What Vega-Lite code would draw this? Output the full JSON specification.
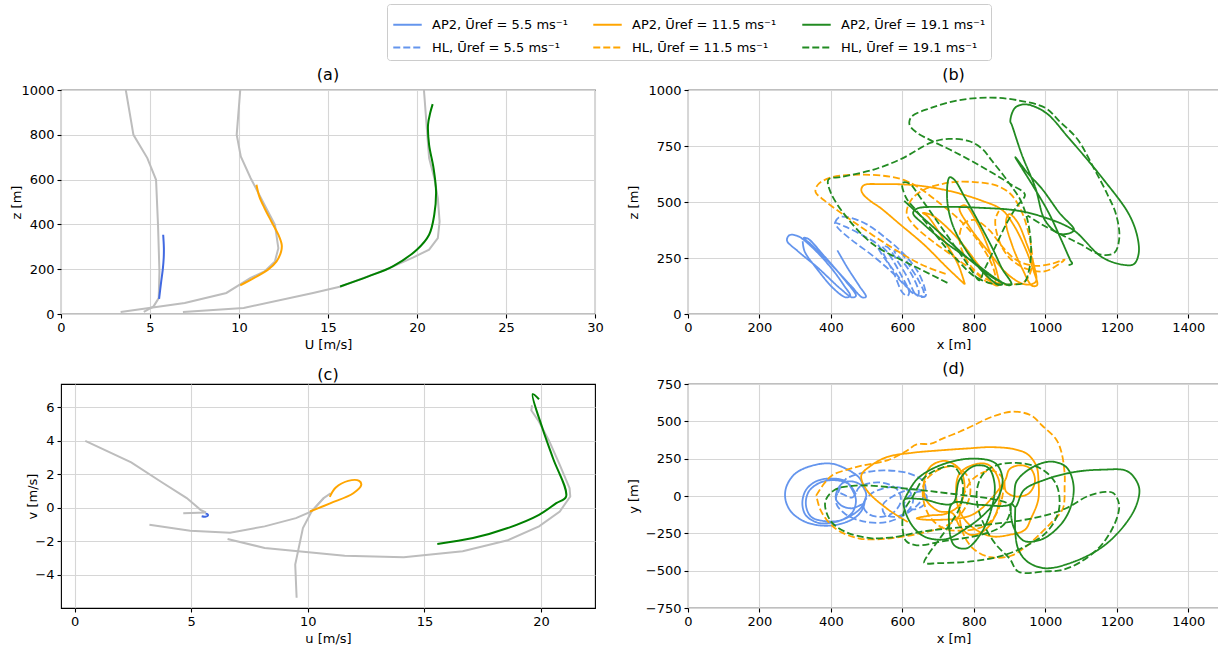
{
"$schema": "https://vega.github.io/schema/vega-lite/v6.json",
"padding": {"left": 9, "top": 3, "right": 0, "bottom": 0},
"background": "white",
"config": {
  "font": "DejaVu Sans",
  "view": {"stroke": "black", "strokeWidth": 1.1},
  "axis": {"domain": false, "grid": true, "gridColor": "#d6d6d6", "gridWidth": 1.1, "tickColor": "black", "tickSize": 4, "tickWidth": 1.1, "labelFontSize": 13, "labelColor": "black", "labelPadding": 3, "titleFontSize": 13, "titleFontWeight": "normal", "titleColor": "black", "titlePadding": 4, "labelFlush": false, "labelOverlap": false, "format": "d"},
  "title": {"fontSize": 16, "fontWeight": "normal", "color": "black", "offset": 1},
  "legend": {"title": null, "orient": "none", "legendX": 326, "legendY": -86, "columns": 3, "symbolType": "stroke", "symbolSize": 810, "symbolStrokeWidth": 1.8, "labelFontSize": 13, "labelColor": "black", "labelOffset": 9, "strokeColor": "#cccccc", "fillColor": "white", "padding": 5, "cornerRadius": 3, "columnPadding": 21, "rowPadding": -3},
  "line": {"clip": true}
},
"datasets": {
  "ag": [
    {"g":"1","x":3.64,"z":1000},{"g":"1","x":4.07,"z":800},{"g":"1","x":4.85,"z":696},{"g":"1","x":5.34,"z":599},{"g":"1","x":5.45,"z":398},{"g":"1","x":5.53,"z":190},{"g":"1","x":5.49,"z":71},{"g":"1","x":5.2,"z":34},{"g":"1","x":4.65,"z":9},
    {"g":"2","x":10.07,"z":1000},{"g":"2","x":9.87,"z":800},{"g":"2","x":10.1,"z":703},{"g":"2","x":10.65,"z":607},{"g":"2","x":11.43,"z":488},{"g":"2","x":12.02,"z":398},{"g":"2","x":12.21,"z":294},{"g":"2","x":12.02,"z":235},{"g":"2","x":11.43,"z":190},{"g":"2","x":10.65,"z":161},{"g":"2","x":9.29,"z":94},{"g":"2","x":6.95,"z":49},{"g":"2","x":3.35,"z":9},
    {"g":"3","x":20.39,"z":1000},{"g":"3","x":20.58,"z":800},{"g":"3","x":20.68,"z":696},{"g":"3","x":20.97,"z":607},{"g":"3","x":21.17,"z":517},{"g":"3","x":21.27,"z":413},{"g":"3","x":21.17,"z":339},{"g":"3","x":20.68,"z":287},{"g":"3","x":19.8,"z":253},{"g":"3","x":18.25,"z":198},{"g":"3","x":15.72,"z":123},{"g":"3","x":14.16,"z":94},{"g":"3","x":10.26,"z":27},{"g":"3","x":6.85,"z":9}
  ],
  "ac": [
    {"r":"5.5","x":5.51,"z":68},{"r":"5.5","x":5.63,"z":146},{"r":"5.5","x":5.72,"z":200},{"r":"5.5","x":5.77,"z":250},{"r":"5.5","x":5.78,"z":294},{"r":"5.5","x":5.76,"z":330},{"r":"5.5","x":5.74,"z":354},
    {"r":"11.5","x":10.07,"z":128},{"r":"11.5","x":10.85,"z":161},{"r":"11.5","x":11.63,"z":198},{"r":"11.5","x":12.11,"z":235},{"r":"11.5","x":12.37,"z":280},{"r":"11.5","x":12.4,"z":309},{"r":"11.5","x":12.21,"z":354},{"r":"11.5","x":11.82,"z":413},{"r":"11.5","x":11.43,"z":473},{"r":"11.5","x":11.14,"z":525},{"r":"11.5","x":10.98,"z":577},
    {"r":"19.1","x":15.68,"z":123},{"r":"19.1","x":17.27,"z":168},{"r":"19.1","x":18.64,"z":213},{"r":"19.1","x":19.99,"z":287},{"r":"19.1","x":20.68,"z":354},{"r":"19.1","x":20.97,"z":443},{"r":"19.1","x":21.07,"z":547},{"r":"19.1","x":20.93,"z":651},{"r":"19.1","x":20.68,"z":755},{"r":"19.1","x":20.62,"z":845},{"r":"19.1","x":20.74,"z":897},{"r":"19.1","x":20.88,"z":937}
  ],
  "cg": [
    {"g":"1","x":0.46,"y":4.0},{"g":"1","x":2.43,"y":2.72},{"g":"1","x":3.69,"y":1.57},{"g":"1","x":4.81,"y":0.58},{"g":"1","x":5.4,"y":-0.12},{"g":"1","x":5.63,"y":-0.28},{"g":"1","x":4.66,"y":-0.32},
    {"g":"2a","x":3.21,"y":-1.01},{"g":"2a","x":4.96,"y":-1.37},{"g":"2a","x":6.67,"y":-1.49},{"g":"2a","x":8.15,"y":-1.11},{"g":"2a","x":9.49,"y":-0.62},{"g":"2a","x":10.16,"y":-0.22},{"g":"2a","x":10.68,"y":0.58},{"g":"2a","x":10.98,"y":0.87},
    {"g":"2b","x":10.68,"y":0.58},{"g":"2b","x":10.16,"y":-0.22},{"g":"2b","x":9.79,"y":-1.21},{"g":"2b","x":9.46,"y":-3.39},{"g":"2b","x":9.52,"y":-5.38},
    {"g":"3","x":6.56,"y":-1.87},{"g":"3","x":8.15,"y":-2.4},{"g":"3","x":11.58,"y":-2.86},{"g":"3","x":14.11,"y":-2.96},{"g":"3","x":16.64,"y":-2.6},{"g":"3","x":18.57,"y":-1.94},{"g":"3","x":19.91,"y":-1.11},{"g":"3","x":20.8,"y":-0.22},{"g":"3","x":21.25,"y":0.67},{"g":"3","x":21.22,"y":1.17},{"g":"3","x":20.8,"y":2.56},{"g":"3","x":20.36,"y":3.95},{"g":"3","x":19.91,"y":5.14},{"g":"3","x":19.58,"y":5.83},{"g":"3","x":19.61,"y":6.13}
  ],
  "cc": [
    {"r":"5.5","x":5.45,"y":-0.5},{"r":"5.5","x":5.6,"y":-0.53},{"r":"5.5","x":5.72,"y":-0.47},{"r":"5.5","x":5.7,"y":-0.38},{"r":"5.5","x":5.62,"y":-0.35},
    {"r":"11.5","x":10.09,"y":-0.22},{"r":"11.5","x":10.98,"y":0.28},{"r":"11.5","x":11.95,"y":0.87},{"r":"11.5","x":12.29,"y":1.37},{"r":"11.5","x":12.2,"y":1.61},{"r":"11.5","x":11.73,"y":1.61},{"r":"11.5","x":11.2,"y":1.21},{"r":"11.5","x":10.94,"y":0.65},
    {"r":"19.1","x":15.55,"y":-2.16},{"r":"19.1","x":17.08,"y":-1.81},{"r":"19.1","x":18.57,"y":-1.21},{"r":"19.1","x":19.91,"y":-0.42},{"r":"19.1","x":20.65,"y":0.28},{"r":"19.1","x":21.07,"y":0.67},{"r":"19.1","x":20.51,"y":2.96},{"r":"19.1","x":20.06,"y":4.74},{"r":"19.1","x":19.64,"y":6.79},{"r":"19.1","x":19.91,"y":6.49}
  ],
  "b": [
    {"s":"AP2|5.5","x":418,"z":284},{"s":"AP2|5.5","x":446,"z":207},{"s":"AP2|5.5","x":479,"z":126},{"s":"AP2|5.5","x":498,"z":77},{"s":"AP2|5.5","x":488,"z":74},{"s":"AP2|5.5","x":456,"z":126},{"s":"AP2|5.5","x":391,"z":237},{"s":"AP2|5.5","x":344,"z":311},{"s":"AP2|5.5","x":324,"z":340},{"s":"AP2|5.5","x":335,"z":337},{"s":"AP2|5.5","x":381,"z":259},{"s":"AP2|5.5","x":437,"z":155},{"s":"AP2|5.5","x":470,"z":81},{"s":"AP2|5.5","x":460,"z":74},{"s":"AP2|5.5","x":428,"z":111},{"s":"AP2|5.5","x":363,"z":207},{"s":"AP2|5.5","x":307,"z":281},{"s":"AP2|5.5","x":277,"z":328},{"s":"AP2|5.5","x":284,"z":352},{"s":"AP2|5.5","x":307,"z":348},{"s":"AP2|5.5","x":344,"z":303},{"s":"AP2|5.5","x":400,"z":207},{"s":"AP2|5.5","x":437,"z":126},{"s":"AP2|5.5","x":454,"z":81},{"s":"AP2|5.5","x":442,"z":74},{"s":"AP2|5.5","x":409,"z":111},{"s":"AP2|5.5","x":358,"z":207},{"s":"AP2|5.5","x":326,"z":281},{"s":"AP2|5.5","x":321,"z":325},
    {"s":"HL|5.5","x":411,"z":407},{"s":"HL|5.5","x":423,"z":432},{"s":"HL|5.5","x":456,"z":429},{"s":"HL|5.5","x":502,"z":399},{"s":"HL|5.5","x":558,"z":333},{"s":"HL|5.5","x":605,"z":266},{"s":"HL|5.5","x":642,"z":192},{"s":"HL|5.5","x":662,"z":118},{"s":"HL|5.5","x":665,"z":81},{"s":"HL|5.5","x":651,"z":77},{"s":"HL|5.5","x":614,"z":118},{"s":"HL|5.5","x":567,"z":192},{"s":"HL|5.5","x":512,"z":266},{"s":"HL|5.5","x":456,"z":333},{"s":"HL|5.5","x":419,"z":385},{"s":"HL|5.5","x":411,"z":407},{"s":"HL|5.5","x":440,"z":390},{"s":"HL|5.5","x":490,"z":350},{"s":"HL|5.5","x":530,"z":311},{"s":"HL|5.5","x":553,"z":251},{"s":"HL|5.5","x":577,"z":178},{"s":"HL|5.5","x":600,"z":96},{"s":"HL|5.5","x":614,"z":81},{"s":"HL|5.5","x":619,"z":96},{"s":"HL|5.5","x":595,"z":178},{"s":"HL|5.5","x":563,"z":266},{"s":"HL|5.5","x":544,"z":303},{"s":"HL|5.5","x":558,"z":299},{"s":"HL|5.5","x":586,"z":237},{"s":"HL|5.5","x":614,"z":163},{"s":"HL|5.5","x":633,"z":96},{"s":"HL|5.5","x":642,"z":81},{"s":"HL|5.5","x":646,"z":96},{"s":"HL|5.5","x":628,"z":170},{"s":"HL|5.5","x":600,"z":237},{"s":"HL|5.5","x":577,"z":281},{"s":"HL|5.5","x":595,"z":274},{"s":"HL|5.5","x":623,"z":207},{"s":"HL|5.5","x":646,"z":148},{"s":"HL|5.5","x":660,"z":96},{"s":"HL|5.5","x":656,"z":81},{"s":"HL|5.5","x":633,"z":89},{"s":"HL|5.5","x":605,"z":133},{"s":"HL|5.5","x":577,"z":192},{"s":"HL|5.5","x":549,"z":251},{"s":"HL|5.5","x":532,"z":293},
    {"s":"AP2|11.5","x":775,"z":132},{"s":"AP2|11.5","x":727,"z":204},{"s":"AP2|11.5","x":661,"z":309},{"s":"AP2|11.5","x":595,"z":398},{"s":"AP2|11.5","x":539,"z":473},{"s":"AP2|11.5","x":510,"z":505},{"s":"AP2|11.5","x":490,"z":535},{"s":"AP2|11.5","x":485,"z":555},{"s":"AP2|11.5","x":492,"z":575},{"s":"AP2|11.5","x":538,"z":580},{"s":"AP2|11.5","x":633,"z":575},{"s":"AP2|11.5","x":727,"z":551},{"s":"AP2|11.5","x":822,"z":506},{"s":"AP2|11.5","x":878,"z":466},{"s":"AP2|11.5","x":911,"z":398},{"s":"AP2|11.5","x":944,"z":293},{"s":"AP2|11.5","x":968,"z":189},{"s":"AP2|11.5","x":977,"z":129},{"s":"AP2|11.5","x":963,"z":126},{"s":"AP2|11.5","x":935,"z":204},{"s":"AP2|11.5","x":907,"z":308},{"s":"AP2|11.5","x":890,"z":413},{"s":"AP2|11.5","x":899,"z":446},{"s":"AP2|11.5","x":921,"z":413},{"s":"AP2|11.5","x":949,"z":308},{"s":"AP2|11.5","x":968,"z":219},{"s":"AP2|11.5","x":973,"z":144},{"s":"AP2|11.5","x":944,"z":132},{"s":"AP2|11.5","x":897,"z":174},{"s":"AP2|11.5","x":841,"z":278},{"s":"AP2|11.5","x":784,"z":398},{"s":"AP2|11.5","x":760,"z":473},{"s":"AP2|11.5","x":775,"z":485},{"s":"AP2|11.5","x":812,"z":398},{"s":"AP2|11.5","x":841,"z":293},{"s":"AP2|11.5","x":864,"z":189},{"s":"AP2|11.5","x":869,"z":129},{"s":"AP2|11.5","x":855,"z":132},{"s":"AP2|11.5","x":812,"z":221},{"s":"AP2|11.5","x":746,"z":353},{"s":"AP2|11.5","x":680,"z":443},{"s":"AP2|11.5","x":657,"z":451},{"s":"AP2|11.5","x":671,"z":436},{"s":"AP2|11.5","x":718,"z":325},{"s":"AP2|11.5","x":756,"z":221},{"s":"AP2|11.5","x":775,"z":132},
    {"s":"HL|11.5","x":721,"z":179},{"s":"HL|11.5","x":654,"z":220},{"s":"HL|11.5","x":557,"z":310},{"s":"HL|11.5","x":461,"z":414},{"s":"HL|11.5","x":384,"z":504},{"s":"HL|11.5","x":357,"z":545},{"s":"HL|11.5","x":364,"z":578},{"s":"HL|11.5","x":403,"z":611},{"s":"HL|11.5","x":480,"z":622},{"s":"HL|11.5","x":557,"z":615},{"s":"HL|11.5","x":610,"z":595},{"s":"HL|11.5","x":650,"z":560},{"s":"HL|11.5","x":700,"z":500},{"s":"HL|11.5","x":760,"z":420},{"s":"HL|11.5","x":810,"z":330},{"s":"HL|11.5","x":845,"z":240},{"s":"HL|11.5","x":860,"z":170},{"s":"HL|11.5","x":858,"z":135},{"s":"HL|11.5","x":840,"z":140},{"s":"HL|11.5","x":800,"z":190},{"s":"HL|11.5","x":740,"z":260},{"s":"HL|11.5","x":680,"z":330},{"s":"HL|11.5","x":630,"z":400},{"s":"HL|11.5","x":612,"z":450},{"s":"HL|11.5","x":625,"z":510},{"s":"HL|11.5","x":660,"z":555},{"s":"HL|11.5","x":710,"z":580},{"s":"HL|11.5","x":750,"z":590},{"s":"HL|11.5","x":810,"z":588},{"s":"HL|11.5","x":860,"z":575},{"s":"HL|11.5","x":900,"z":540},{"s":"HL|11.5","x":930,"z":470},{"s":"HL|11.5","x":950,"z":380},{"s":"HL|11.5","x":962,"z":280},{"s":"HL|11.5","x":962,"z":206},{"s":"HL|11.5","x":943,"z":146},{"s":"HL|11.5","x":900,"z":131},{"s":"HL|11.5","x":860,"z":140},{"s":"HL|11.5","x":820,"z":170},{"s":"HL|11.5","x":780,"z":240},{"s":"HL|11.5","x":760,"z":330},{"s":"HL|11.5","x":770,"z":400},{"s":"HL|11.5","x":800,"z":420},{"s":"HL|11.5","x":840,"z":380},{"s":"HL|11.5","x":880,"z":300},{"s":"HL|11.5","x":920,"z":240},{"s":"HL|11.5","x":970,"z":215},{"s":"HL|11.5","x":1020,"z":225},{"s":"HL|11.5","x":1054,"z":243},{"s":"HL|11.5","x":1040,"z":225},{"s":"HL|11.5","x":1000,"z":191},{"s":"HL|11.5","x":950,"z":200},{"s":"HL|11.5","x":900,"z":250},{"s":"HL|11.5","x":870,"z":330},{"s":"HL|11.5","x":860,"z":420},{"s":"HL|11.5","x":870,"z":460},
    {"s":"AP2|19.1","x":605,"z":505},{"s":"AP2|19.1","x":650,"z":440},{"s":"AP2|19.1","x":720,"z":340},{"s":"AP2|19.1","x":790,"z":240},{"s":"AP2|19.1","x":850,"z":165},{"s":"AP2|19.1","x":880,"z":135},{"s":"AP2|19.1","x":870,"z":130},{"s":"AP2|19.1","x":830,"z":180},{"s":"AP2|19.1","x":780,"z":280},{"s":"AP2|19.1","x":740,"z":400},{"s":"AP2|19.1","x":725,"z":520},{"s":"AP2|19.1","x":732,"z":610},{"s":"AP2|19.1","x":745,"z":600},{"s":"AP2|19.1","x":775,"z":520},{"s":"AP2|19.1","x":810,"z":420},{"s":"AP2|19.1","x":850,"z":300},{"s":"AP2|19.1","x":880,"z":200},{"s":"AP2|19.1","x":905,"z":135},{"s":"AP2|19.1","x":900,"z":128},{"s":"AP2|19.1","x":870,"z":150},{"s":"AP2|19.1","x":800,"z":230},{"s":"AP2|19.1","x":720,"z":320},{"s":"AP2|19.1","x":660,"z":400},{"s":"AP2|19.1","x":630,"z":450},{"s":"AP2|19.1","x":640,"z":470},{"s":"AP2|19.1","x":720,"z":478},{"s":"AP2|19.1","x":820,"z":474},{"s":"AP2|19.1","x":920,"z":462},{"s":"AP2|19.1","x":1000,"z":430},{"s":"AP2|19.1","x":1078,"z":375},{"s":"AP2|19.1","x":1159,"z":253},{"s":"AP2|19.1","x":1220,"z":219},{"s":"AP2|19.1","x":1248,"z":223},{"s":"AP2|19.1","x":1261,"z":268},{"s":"AP2|19.1","x":1258,"z":342},{"s":"AP2|19.1","x":1234,"z":445},{"s":"AP2|19.1","x":1159,"z":608},{"s":"AP2|19.1","x":1066,"z":785},{"s":"AP2|19.1","x":1000,"z":900},{"s":"AP2|19.1","x":944,"z":936},{"s":"AP2|19.1","x":915,"z":920},{"s":"AP2|19.1","x":902,"z":860},{"s":"AP2|19.1","x":906,"z":845},{"s":"AP2|19.1","x":934,"z":712},{"s":"AP2|19.1","x":972,"z":564},{"s":"AP2|19.1","x":1000,"z":416},{"s":"AP2|19.1","x":1042,"z":357},{"s":"AP2|19.1","x":1080,"z":374},{"s":"AP2|19.1","x":1040,"z":450},{"s":"AP2|19.1","x":990,"z":560},{"s":"AP2|19.1","x":950,"z":630},{"s":"AP2|19.1","x":916,"z":700},{"s":"AP2|19.1","x":935,"z":650},{"s":"AP2|19.1","x":970,"z":560},{"s":"AP2|19.1","x":1010,"z":450},{"s":"AP2|19.1","x":1045,"z":330},{"s":"AP2|19.1","x":1070,"z":240},{"s":"AP2|19.1","x":1075,"z":225},{"s":"AP2|19.1","x":1065,"z":218},
    {"s":"HL|19.1","x":726,"z":139},{"s":"HL|19.1","x":650,"z":200},{"s":"HL|19.1","x":605,"z":235},{"s":"HL|19.1","x":519,"z":310},{"s":"HL|19.1","x":450,"z":420},{"s":"HL|19.1","x":400,"z":540},{"s":"HL|19.1","x":393,"z":600},{"s":"HL|19.1","x":430,"z":612},{"s":"HL|19.1","x":520,"z":645},{"s":"HL|19.1","x":600,"z":695},{"s":"HL|19.1","x":680,"z":765},{"s":"HL|19.1","x":730,"z":782},{"s":"HL|19.1","x":790,"z":770},{"s":"HL|19.1","x":825,"z":735},{"s":"HL|19.1","x":850,"z":685},{"s":"HL|19.1","x":880,"z":625},{"s":"HL|19.1","x":905,"z":570},{"s":"HL|19.1","x":930,"z":510},{"s":"HL|19.1","x":950,"z":420},{"s":"HL|19.1","x":960,"z":300},{"s":"HL|19.1","x":955,"z":200},{"s":"HL|19.1","x":940,"z":140},{"s":"HL|19.1","x":900,"z":132},{"s":"HL|19.1","x":850,"z":136},{"s":"HL|19.1","x":800,"z":170},{"s":"HL|19.1","x":760,"z":230},{"s":"HL|19.1","x":720,"z":300},{"s":"HL|19.1","x":680,"z":380},{"s":"HL|19.1","x":640,"z":460},{"s":"HL|19.1","x":610,"z":520},{"s":"HL|19.1","x":600,"z":585},{"s":"HL|19.1","x":620,"z":582},{"s":"HL|19.1","x":650,"z":520},{"s":"HL|19.1","x":690,"z":430},{"s":"HL|19.1","x":730,"z":340},{"s":"HL|19.1","x":770,"z":250},{"s":"HL|19.1","x":800,"z":180},{"s":"HL|19.1","x":815,"z":150},{"s":"HL|19.1","x":830,"z":200},{"s":"HL|19.1","x":860,"z":300},{"s":"HL|19.1","x":890,"z":400},{"s":"HL|19.1","x":920,"z":480},{"s":"HL|19.1","x":943,"z":533},{"s":"HL|19.1","x":904,"z":578},{"s":"HL|19.1","x":827,"z":653},{"s":"HL|19.1","x":750,"z":720},{"s":"HL|19.1","x":680,"z":775},{"s":"HL|19.1","x":640,"z":810},{"s":"HL|19.1","x":620,"z":845},{"s":"HL|19.1","x":625,"z":880},{"s":"HL|19.1","x":680,"z":920},{"s":"HL|19.1","x":760,"z":955},{"s":"HL|19.1","x":846,"z":966},{"s":"HL|19.1","x":920,"z":955},{"s":"HL|19.1","x":1000,"z":920},{"s":"HL|19.1","x":1039,"z":861},{"s":"HL|19.1","x":1090,"z":780},{"s":"HL|19.1","x":1135,"z":653},{"s":"HL|19.1","x":1175,"z":530},{"s":"HL|19.1","x":1198,"z":444},{"s":"HL|19.1","x":1207,"z":340},{"s":"HL|19.1","x":1193,"z":273},{"s":"HL|19.1","x":1155,"z":265},{"s":"HL|19.1","x":1100,"z":310},{"s":"HL|19.1","x":1050,"z":350},{"s":"HL|19.1","x":990,"z":400},{"s":"HL|19.1","x":950,"z":440}
  ],
  "d": [
    {"s":"AP2|5.5","x":494,"y":40},{"s":"AP2|5.5","x":480,"y":120},{"s":"AP2|5.5","x":440,"y":185},{"s":"AP2|5.5","x":400,"y":217},{"s":"AP2|5.5","x":350,"y":205},{"s":"AP2|5.5","x":300,"y":150},{"s":"AP2|5.5","x":275,"y":60},{"s":"AP2|5.5","x":273,"y":-27},{"s":"AP2|5.5","x":290,"y":-110},{"s":"AP2|5.5","x":330,"y":-175},{"s":"AP2|5.5","x":380,"y":-199},{"s":"AP2|5.5","x":430,"y":-185},{"s":"AP2|5.5","x":470,"y":-140},{"s":"AP2|5.5","x":490,"y":-80},{"s":"AP2|5.5","x":496,"y":-20},{"s":"AP2|5.5","x":499,"y":5},{"s":"AP2|5.5","x":490,"y":60},{"s":"AP2|5.5","x":465,"y":95},{"s":"AP2|5.5","x":435,"y":90},{"s":"AP2|5.5","x":418,"y":40},{"s":"AP2|5.5","x":414,"y":-20},{"s":"AP2|5.5","x":430,"y":-65},{"s":"AP2|5.5","x":460,"y":-82},{"s":"AP2|5.5","x":490,"y":-55},{"s":"AP2|5.5","x":480,"y":-90},{"s":"AP2|5.5","x":450,"y":-140},{"s":"AP2|5.5","x":410,"y":-175},{"s":"AP2|5.5","x":365,"y":-180},{"s":"AP2|5.5","x":330,"y":-130},{"s":"AP2|5.5","x":320,"y":-50},{"s":"AP2|5.5","x":330,"y":40},{"s":"AP2|5.5","x":360,"y":100},{"s":"AP2|5.5","x":400,"y":117},{"s":"AP2|5.5","x":440,"y":100},{"s":"AP2|5.5","x":460,"y":40},{"s":"AP2|5.5","x":470,"y":-30},{"s":"AP2|5.5","x":460,"y":-110},{"s":"AP2|5.5","x":430,"y":-160},{"s":"AP2|5.5","x":390,"y":-170},{"s":"AP2|5.5","x":345,"y":-140},{"s":"AP2|5.5","x":330,"y":-60},{"s":"AP2|5.5","x":338,"y":30},{"s":"AP2|5.5","x":370,"y":90},{"s":"AP2|5.5","x":410,"y":106},{"s":"AP2|5.5","x":450,"y":80},{"s":"AP2|5.5","x":470,"y":10},
    {"s":"HL|5.5","x":420,"y":20},{"s":"HL|5.5","x":440,"y":110},{"s":"HL|5.5","x":500,"y":160},{"s":"HL|5.5","x":557,"y":171},{"s":"HL|5.5","x":620,"y":150},{"s":"HL|5.5","x":658,"y":100},{"s":"HL|5.5","x":665,"y":40},{"s":"HL|5.5","x":650,"y":-40},{"s":"HL|5.5","x":610,"y":-120},{"s":"HL|5.5","x":557,"y":-174},{"s":"HL|5.5","x":490,"y":-170},{"s":"HL|5.5","x":440,"y":-120},{"s":"HL|5.5","x":415,"y":-50},{"s":"HL|5.5","x":420,"y":20},{"s":"HL|5.5","x":460,"y":-10},{"s":"HL|5.5","x":480,"y":60},{"s":"HL|5.5","x":520,"y":90},{"s":"HL|5.5","x":560,"y":80},{"s":"HL|5.5","x":590,"y":30},{"s":"HL|5.5","x":595,"y":-40},{"s":"HL|5.5","x":575,"y":-110},{"s":"HL|5.5","x":540,"y":-140},{"s":"HL|5.5","x":505,"y":-120},{"s":"HL|5.5","x":490,"y":-60},{"s":"HL|5.5","x":510,"y":10},{"s":"HL|5.5","x":545,"y":50},{"s":"HL|5.5","x":585,"y":60},{"s":"HL|5.5","x":620,"y":30},{"s":"HL|5.5","x":630,"y":-30},{"s":"HL|5.5","x":615,"y":-100},{"s":"HL|5.5","x":580,"y":-140},{"s":"HL|5.5","x":550,"y":-120},{"s":"HL|5.5","x":545,"y":-60},{"s":"HL|5.5","x":575,"y":0},{"s":"HL|5.5","x":615,"y":40},{"s":"HL|5.5","x":650,"y":40},{"s":"HL|5.5","x":668,"y":0},{"s":"HL|5.5","x":660,"y":-60},{"s":"HL|5.5","x":630,"y":-90},{"s":"HL|5.5","x":605,"y":-60},{"s":"HL|5.5","x":620,"y":0},{"s":"HL|5.5","x":650,"y":30},{"s":"HL|5.5","x":665,"y":10},
    {"s":"AP2|11.5","x":615,"y":-174},{"s":"AP2|11.5","x":557,"y":-85},{"s":"AP2|11.5","x":500,"y":40},{"s":"AP2|11.5","x":485,"y":138},{"s":"AP2|11.5","x":510,"y":200},{"s":"AP2|11.5","x":557,"y":261},{"s":"AP2|11.5","x":630,"y":290},{"s":"AP2|11.5","x":702,"y":305},{"s":"AP2|11.5","x":780,"y":318},{"s":"AP2|11.5","x":846,"y":327},{"s":"AP2|11.5","x":910,"y":315},{"s":"AP2|11.5","x":950,"y":280},{"s":"AP2|11.5","x":975,"y":200},{"s":"AP2|11.5","x":981,"y":94},{"s":"AP2|11.5","x":980,"y":-27},{"s":"AP2|11.5","x":960,"y":-150},{"s":"AP2|11.5","x":943,"y":-226},{"s":"AP2|11.5","x":900,"y":-260},{"s":"AP2|11.5","x":849,"y":-270},{"s":"AP2|11.5","x":793,"y":-204},{"s":"AP2|11.5","x":760,"y":-100},{"s":"AP2|11.5","x":750,"y":30},{"s":"AP2|11.5","x":760,"y":150},{"s":"AP2|11.5","x":800,"y":210},{"s":"AP2|11.5","x":840,"y":210},{"s":"AP2|11.5","x":868,"y":120},{"s":"AP2|11.5","x":872,"y":0},{"s":"AP2|11.5","x":860,"y":-130},{"s":"AP2|11.5","x":830,"y":-230},{"s":"AP2|11.5","x":790,"y":-260},{"s":"AP2|11.5","x":760,"y":-200},{"s":"AP2|11.5","x":740,"y":-115},{"s":"AP2|11.5","x":700,"y":-100},{"s":"AP2|11.5","x":665,"y":-20},{"s":"AP2|11.5","x":661,"y":100},{"s":"AP2|11.5","x":680,"y":200},{"s":"AP2|11.5","x":720,"y":235},{"s":"AP2|11.5","x":760,"y":180},{"s":"AP2|11.5","x":774,"y":60},{"s":"AP2|11.5","x":760,"y":-60},{"s":"AP2|11.5","x":720,"y":-120},{"s":"AP2|11.5","x":680,"y":-130},{"s":"AP2|11.5","x":640,"y":-150},{"s":"AP2|11.5","x":700,"y":-160},{"s":"AP2|11.5","x":800,"y":-120},{"s":"AP2|11.5","x":886,"y":100},{"s":"AP2|11.5","x":900,"y":180},{"s":"AP2|11.5","x":930,"y":206},{"s":"AP2|11.5","x":960,"y":180},{"s":"AP2|11.5","x":971,"y":100},{"s":"AP2|11.5","x":955,"y":20},{"s":"AP2|11.5","x":920,"y":-4},{"s":"AP2|11.5","x":890,"y":30},{"s":"AP2|11.5","x":886,"y":100},
    {"s":"HL|11.5","x":359,"y":4},{"s":"HL|11.5","x":380,"y":80},{"s":"HL|11.5","x":403,"y":138},{"s":"HL|11.5","x":450,"y":180},{"s":"HL|11.5","x":490,"y":205},{"s":"HL|11.5","x":560,"y":240},{"s":"HL|11.5","x":610,"y":300},{"s":"HL|11.5","x":640,"y":345},{"s":"HL|11.5","x":680,"y":350},{"s":"HL|11.5","x":711,"y":383},{"s":"HL|11.5","x":760,"y":430},{"s":"HL|11.5","x":798,"y":472},{"s":"HL|11.5","x":850,"y":530},{"s":"HL|11.5","x":909,"y":565},{"s":"HL|11.5","x":960,"y":540},{"s":"HL|11.5","x":991,"y":472},{"s":"HL|11.5","x":1030,"y":380},{"s":"HL|11.5","x":1045,"y":294},{"s":"HL|11.5","x":1054,"y":150},{"s":"HL|11.5","x":1054,"y":71},{"s":"HL|11.5","x":1049,"y":-85},{"s":"HL|11.5","x":1020,"y":-170},{"s":"HL|11.5","x":991,"y":-240},{"s":"HL|11.5","x":950,"y":-330},{"s":"HL|11.5","x":904,"y":-400},{"s":"HL|11.5","x":846,"y":-410},{"s":"HL|11.5","x":798,"y":-352},{"s":"HL|11.5","x":770,"y":-250},{"s":"HL|11.5","x":760,"y":-120},{"s":"HL|11.5","x":770,"y":0},{"s":"HL|11.5","x":800,"y":120},{"s":"HL|11.5","x":850,"y":170},{"s":"HL|11.5","x":880,"y":120},{"s":"HL|11.5","x":880,"y":0},{"s":"HL|11.5","x":860,"y":-130},{"s":"HL|11.5","x":830,"y":-200},{"s":"HL|11.5","x":780,"y":-230},{"s":"HL|11.5","x":720,"y":-220},{"s":"HL|11.5","x":680,"y":-150},{"s":"HL|11.5","x":660,"y":-40},{"s":"HL|11.5","x":660,"y":80},{"s":"HL|11.5","x":690,"y":160},{"s":"HL|11.5","x":740,"y":200},{"s":"HL|11.5","x":780,"y":140},{"s":"HL|11.5","x":790,"y":20},{"s":"HL|11.5","x":770,"y":-100},{"s":"HL|11.5","x":730,"y":-190},{"s":"HL|11.5","x":650,"y":-250},{"s":"HL|11.5","x":557,"y":-285},{"s":"HL|11.5","x":480,"y":-285},{"s":"HL|11.5","x":420,"y":-230},{"s":"HL|11.5","x":393,"y":-174},{"s":"HL|11.5","x":370,"y":-90},{"s":"HL|11.5","x":359,"y":4},
    {"s":"AP2|19.1","x":605,"y":-27},{"s":"AP2|19.1","x":640,"y":110},{"s":"AP2|19.1","x":700,"y":200},{"s":"AP2|19.1","x":790,"y":250},{"s":"AP2|19.1","x":860,"y":220},{"s":"AP2|19.1","x":880,"y":120},{"s":"AP2|19.1","x":870,"y":0},{"s":"AP2|19.1","x":830,"y":-120},{"s":"AP2|19.1","x":770,"y":-230},{"s":"AP2|19.1","x":720,"y":-290},{"s":"AP2|19.1","x":660,"y":-270},{"s":"AP2|19.1","x":620,"y":-170},{"s":"AP2|19.1","x":605,"y":-27},{"s":"AP2|19.1","x":650,"y":-20},{"s":"AP2|19.1","x":740,"y":-50},{"s":"AP2|19.1","x":760,"y":110},{"s":"AP2|19.1","x":800,"y":200},{"s":"AP2|19.1","x":840,"y":190},{"s":"AP2|19.1","x":858,"y":80},{"s":"AP2|19.1","x":850,"y":-80},{"s":"AP2|19.1","x":820,"y":-250},{"s":"AP2|19.1","x":780,"y":-350},{"s":"AP2|19.1","x":745,"y":-330},{"s":"AP2|19.1","x":731,"y":-200},{"s":"AP2|19.1","x":740,"y":-50},{"s":"AP2|19.1","x":820,"y":-60},{"s":"AP2|19.1","x":905,"y":-50},{"s":"AP2|19.1","x":920,"y":100},{"s":"AP2|19.1","x":970,"y":200},{"s":"AP2|19.1","x":1020,"y":230},{"s":"AP2|19.1","x":1060,"y":190},{"s":"AP2|19.1","x":1079,"y":70},{"s":"AP2|19.1","x":1070,"y":-80},{"s":"AP2|19.1","x":1040,"y":-200},{"s":"AP2|19.1","x":990,"y":-290},{"s":"AP2|19.1","x":940,"y":-300},{"s":"AP2|19.1","x":910,"y":-200},{"s":"AP2|19.1","x":905,"y":-50},{"s":"AP2|19.1","x":916,"y":-73},{"s":"AP2|19.1","x":940,"y":40},{"s":"AP2|19.1","x":1000,"y":110},{"s":"AP2|19.1","x":1080,"y":160},{"s":"AP2|19.1","x":1159,"y":176},{"s":"AP2|19.1","x":1230,"y":165},{"s":"AP2|19.1","x":1262,"y":60},{"s":"AP2|19.1","x":1255,"y":-60},{"s":"AP2|19.1","x":1220,"y":-200},{"s":"AP2|19.1","x":1160,"y":-340},{"s":"AP2|19.1","x":1080,"y":-440},{"s":"AP2|19.1","x":1000,"y":-484},{"s":"AP2|19.1","x":950,"y":-440},{"s":"AP2|19.1","x":925,"y":-360},{"s":"AP2|19.1","x":916,"y":-250},{"s":"AP2|19.1","x":916,"y":-73},
    {"s":"HL|19.1","x":519,"y":-285},{"s":"HL|19.1","x":450,"y":-250},{"s":"HL|19.1","x":400,"y":-170},{"s":"HL|19.1","x":384,"y":-40},{"s":"HL|19.1","x":410,"y":40},{"s":"HL|19.1","x":470,"y":70},{"s":"HL|19.1","x":560,"y":60},{"s":"HL|19.1","x":650,"y":40},{"s":"HL|19.1","x":720,"y":20},{"s":"HL|19.1","x":790,"y":0},{"s":"HL|19.1","x":850,"y":-20},{"s":"HL|19.1","x":900,"y":-60},{"s":"HL|19.1","x":900,"y":-120},{"s":"HL|19.1","x":880,"y":-200},{"s":"HL|19.1","x":820,"y":-260},{"s":"HL|19.1","x":720,"y":-300},{"s":"HL|19.1","x":640,"y":-330},{"s":"HL|19.1","x":610,"y":-300},{"s":"HL|19.1","x":600,"y":-200},{"s":"HL|19.1","x":605,"y":-100},{"s":"HL|19.1","x":630,"y":0},{"s":"HL|19.1","x":660,"y":120},{"s":"HL|19.1","x":700,"y":180},{"s":"HL|19.1","x":740,"y":200},{"s":"HL|19.1","x":760,"y":150},{"s":"HL|19.1","x":770,"y":50},{"s":"HL|19.1","x":760,"y":-80},{"s":"HL|19.1","x":730,"y":-200},{"s":"HL|19.1","x":700,"y":-300},{"s":"HL|19.1","x":670,"y":-400},{"s":"HL|19.1","x":661,"y":-447},{"s":"HL|19.1","x":700,"y":-450},{"s":"HL|19.1","x":800,"y":-436},{"s":"HL|19.1","x":880,"y":-400},{"s":"HL|19.1","x":950,"y":-330},{"s":"HL|19.1","x":1000,"y":-250},{"s":"HL|19.1","x":1030,"y":-150},{"s":"HL|19.1","x":1040,"y":-50},{"s":"HL|19.1","x":1030,"y":80},{"s":"HL|19.1","x":990,"y":180},{"s":"HL|19.1","x":930,"y":220},{"s":"HL|19.1","x":870,"y":210},{"s":"HL|19.1","x":830,"y":160},{"s":"HL|19.1","x":810,"y":60},{"s":"HL|19.1","x":810,"y":-60},{"s":"HL|19.1","x":830,"y":-200},{"s":"HL|19.1","x":860,"y":-320},{"s":"HL|19.1","x":900,"y":-420},{"s":"HL|19.1","x":925,"y":-507},{"s":"HL|19.1","x":1000,"y":-505},{"s":"HL|19.1","x":1047,"y":-495},{"s":"HL|19.1","x":1100,"y":-440},{"s":"HL|19.1","x":1160,"y":-320},{"s":"HL|19.1","x":1200,"y":-150},{"s":"HL|19.1","x":1206,"y":-51},{"s":"HL|19.1","x":1190,"y":20},{"s":"HL|19.1","x":1168,"y":27},{"s":"HL|19.1","x":1120,"y":0},{"s":"HL|19.1","x":1060,"y":-80},{"s":"HL|19.1","x":1000,"y":-130},{"s":"HL|19.1","x":940,"y":-160},{"s":"HL|19.1","x":880,"y":-180},{"s":"HL|19.1","x":800,"y":-200},{"s":"HL|19.1","x":720,"y":-220},{"s":"HL|19.1","x":650,"y":-240},{"s":"HL|19.1","x":580,"y":-275},{"s":"HL|19.1","x":519,"y":-285}
  ]
},
"bounds": "flush",
"columns": 2,
"spacing": {"row": 70, "column": 93},
"concat": [
  {
    "width": 534, "height": 224,
    "title": "(a)",
    "layer": [
      {"data": {"name": "ag"}, "mark": {"type": "line", "color": "#bdbdbd", "strokeWidth": 2, "clip": true},
       "encoding": {
         "x": {"field": "x", "type": "quantitative", "scale": {"domain": [0, 30], "nice": false, "zero": false}, "axis": {"title": "U [m/s]", "values": [0, 5, 10, 15, 20, 25, 30]}},
         "y": {"field": "z", "type": "quantitative", "scale": {"domain": [0, 1000], "nice": false}, "axis": {"title": "z [m]", "values": [0, 200, 400, 600, 800, 1000], "titleX": -38, "titleY": 112}},
         "detail": {"field": "g"},
         "order": {"value": null}}},
      {"data": {"name": "ac"}, "mark": {"type": "line", "strokeWidth": 2, "clip": true, "interpolate": "catmull-rom"},
       "encoding": {
         "x": {"field": "x", "type": "quantitative"},
         "y": {"field": "z", "type": "quantitative"},
         "stroke": {"field": "r", "type": "nominal", "scale": {"domain": ["5.5", "11.5", "19.1"], "range": ["#4169E1", "#FFA500", "#008000"]}, "legend": null},
         "order": {"value": null}}}
    ]
  },
  {
    "width": 531, "height": 224,
    "title": "(b)",
    "data": {"name": "b"},
    "mark": {"type": "line", "strokeWidth": 1.8, "clip": true, "interpolate": "catmull-rom"},
    "encoding": {
      "x": {"field": "x", "type": "quantitative", "scale": {"domain": [0, 1486], "nice": false, "zero": false}, "axis": {"title": "x [m]", "values": [0, 200, 400, 600, 800, 1000, 1200, 1400]}},
      "y": {"field": "z", "type": "quantitative", "scale": {"domain": [0, 1000], "nice": false}, "axis": {"title": "z [m]", "values": [0, 250, 500, 750, 1000], "titleX": -48, "titleY": 112}},
      "color": {"field": "s", "type": "nominal",
        "scale": {"domain": ["AP2|5.5", "HL|5.5", "AP2|11.5", "HL|11.5", "AP2|19.1", "HL|19.1"], "range": ["#6495ED", "#6495ED", "#FFA500", "#FFA500", "#228B22", "#228B22"]},
        "legend": {"labelExpr": "split(datum.label, '|')[0] + ', Ūref = ' + split(datum.label, '|')[1] + ' ms⁻¹'"}},
      "strokeDash": {"field": "s", "type": "nominal",
        "scale": {"domain": ["AP2|5.5", "HL|5.5", "AP2|11.5", "HL|11.5", "AP2|19.1", "HL|19.1"], "range": [[1, 0], [7, 3], [1, 0], [7, 3], [1, 0], [7, 3]]},
        "legend": {"labelExpr": "split(datum.label, '|')[0] + ', Ūref = ' + split(datum.label, '|')[1] + ' ms⁻¹'"}},
      "order": {"value": null}
    }
  },
  {
    "width": 534, "height": 224,
    "title": "(c)",
    "layer": [
      {"data": {"name": "cg"}, "mark": {"type": "line", "color": "#bdbdbd", "strokeWidth": 2, "clip": true},
       "encoding": {
         "x": {"field": "x", "type": "quantitative", "scale": {"domain": [-0.58, 22.31], "nice": false, "zero": false}, "axis": {"title": "u [m/s]", "values": [0, 5, 10, 15, 20]}},
         "y": {"field": "y", "type": "quantitative", "scale": {"domain": [-5.99, 7.4], "nice": false, "zero": false}, "axis": {"title": "v [m/s]", "values": [-4, -2, 0, 2, 4, 6], "titleX": -22, "titleY": 112}},
         "detail": {"field": "g"},
         "order": {"value": null}}},
      {"data": {"name": "cc"}, "mark": {"type": "line", "strokeWidth": 2, "clip": true, "interpolate": "catmull-rom"},
       "encoding": {
         "x": {"field": "x", "type": "quantitative"},
         "y": {"field": "y", "type": "quantitative"},
         "stroke": {"field": "r", "type": "nominal", "scale": {"domain": ["5.5", "11.5", "19.1"], "range": ["#4169E1", "#FFA500", "#008000"]}, "legend": null},
         "order": {"value": null}}}
    ]
  },
  {
    "width": 531, "height": 224,
    "title": "(d)",
    "data": {"name": "d"},
    "mark": {"type": "line", "strokeWidth": 1.8, "clip": true, "interpolate": "catmull-rom"},
    "encoding": {
      "x": {"field": "x", "type": "quantitative", "scale": {"domain": [0, 1486], "nice": false, "zero": false}, "axis": {"title": "x [m]", "values": [0, 200, 400, 600, 800, 1000, 1200, 1400]}},
      "y": {"field": "y", "type": "quantitative", "scale": {"domain": [-750, 750], "nice": false, "zero": false}, "axis": {"title": "y [m]", "values": [-750, -500, -250, 0, 250, 500, 750], "titleX": -48, "titleY": 112}},
      "color": {"field": "s", "type": "nominal",
        "scale": {"domain": ["AP2|5.5", "HL|5.5", "AP2|11.5", "HL|11.5", "AP2|19.1", "HL|19.1"], "range": ["#6495ED", "#6495ED", "#FFA500", "#FFA500", "#228B22", "#228B22"]},
        "legend": {"labelExpr": "split(datum.label, '|')[0] + ', Ūref = ' + split(datum.label, '|')[1] + ' ms⁻¹'"}},
      "strokeDash": {"field": "s", "type": "nominal",
        "scale": {"domain": ["AP2|5.5", "HL|5.5", "AP2|11.5", "HL|11.5", "AP2|19.1", "HL|19.1"], "range": [[1, 0], [7, 3], [1, 0], [7, 3], [1, 0], [7, 3]]},
        "legend": {"labelExpr": "split(datum.label, '|')[0] + ', Ūref = ' + split(datum.label, '|')[1] + ' ms⁻¹'"}},
      "order": {"value": null}
    }
  }
]
}
